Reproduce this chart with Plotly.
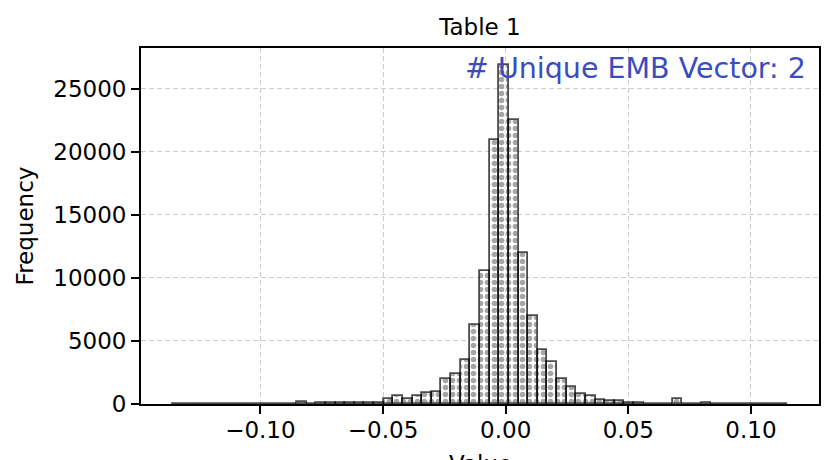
import plotly.graph_objects as go

# ---- data ----
BIN_START = -0.1361
BIN_WIDTH = 0.003926
counts = [10, 0, 5, 10, 15, 10, 10, 20, 15, 10, 20, 25, 30,
          130, 40, 110, 45, 50, 60, 70, 80, 110,
          370, 610, 370, 670, 870, 970, 2020, 2360, 3470, 6250,
          10540, 20950, 26900, 22540, 11950, 6990, 4270, 3340,
          2020, 1330, 830, 640, 300, 200, 220, 110, 60, 40, 30, 20,
          380, 20, 15, 90, 15, 10, 20, 15, 10, 10, 5, 10]
x_tick_vals = [-0.10, -0.05, 0.00, 0.05, 0.10]
y_tick_vals = [0, 5000, 10000, 15000, 20000, 25000]
title_text = "Table 1"
annot_text = "# Unique EMB Vector: 2"
x_label = "Value"
y_label = "Frequency"

centers = [BIN_START + (i + 0.5) * BIN_WIDTH for i in range(len(counts))]

FONT = "DejaVu Sans"

fig = go.Figure()
fig.add_trace(go.Bar(
    x=centers, y=counts, width=BIN_WIDTH,
    marker=dict(
        color="white",
        line=dict(color="black", width=1.8),
        pattern=dict(shape=".", fgcolor="black", bgcolor="white",
                     size=7, solidity=0.5),
        opacity=0.7,
    ),
    showlegend=False,
))

xmin = BIN_START
xmax = BIN_START + BIN_WIDTH * len(counts)
pad = (xmax - xmin) * 0.05
ymax = max(counts) * 1.05

axis_common = dict(
    showline=True, linecolor="black", linewidth=1.8, mirror=True,
    ticks="outside", ticklen=8, tickwidth=1.6, tickcolor="black",
    showgrid=True, gridcolor="#cccccc", gridwidth=1.2, griddash="5px,3px",
    zeroline=False,
    tickfont=dict(family=FONT, size=23, color="black"),
)

fig.update_layout(
    width=837, height=460,
    margin=dict(l=133, r=26, t=40, b=64),
    paper_bgcolor="white", plot_bgcolor="white",
    bargap=0,
    title=dict(text=title_text, x=(133 + 811) / 2 / 837, xanchor="center",
               y=1 - 19 / 460, yanchor="middle", yref="container",
               font=dict(family=FONT, size=23, color="black")),
    xaxis=dict(range=[xmin - pad, xmax + pad], tickvals=x_tick_vals,
               tickformat=".2f", ticklabelstandoff=-4,
               automargin=False, **axis_common),
    yaxis=dict(range=[0, ymax], tickvals=y_tick_vals, tickformat="d",
               title=dict(text=y_label, standoff=13,
                          font=dict(family=FONT, size=23, color="black")),
               automargin=False, **axis_common),
    annotations=[
        dict(text=annot_text, xref="paper", yref="paper",
             x=(808 - 141) / 678, y=(404 - 69) / 356,
             xanchor="right", yanchor="middle", showarrow=False,
             font=dict(family=FONT, size=28.5, color="#3b4cc0")),
        dict(text=x_label, xref="paper", yref="paper",
             x=0.5, y=-45 / 356, xanchor="center", yanchor="top",
             showarrow=False,
             font=dict(family=FONT, size=23, color="black")),
    ],
)

fig.write_html("out.html")
